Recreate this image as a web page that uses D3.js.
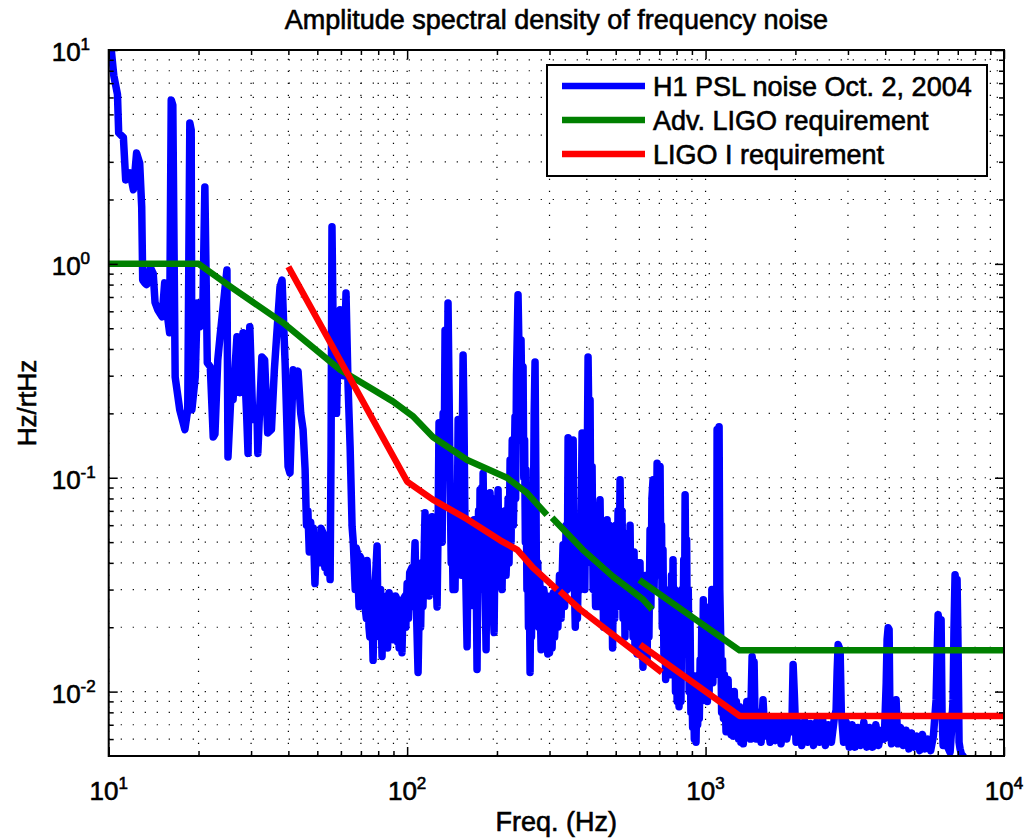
<!DOCTYPE html>
<html>
<head>
<meta charset="utf-8">
<script src="https://cdn.jsdelivr.net/npm/d3@7/dist/d3.min.js"></script>
<style>
  body { margin: 0; background: #fff; }
  svg text { font-family: "Liberation Sans", Arial, Helvetica, sans-serif; fill: #000; stroke: #000; stroke-width: 0.6px; }
</style>
</head>
<body>
<div id="chart"></div>
<script>
// measured H1 PSL frequency noise, [Hz, Hz/rtHz]
const pslNoise = [
  [10.1,12],[10.2,10],[10.4,7.6],[10.7,6.2],[10.8,4.1],[11.2,3.9],[11.4,2.47],[11.8,2.66],[12.1,2.22],[12.4,3.3],
  [12.7,2.96],[12.9,1.85],[13.0,0.84],[13.2,0.815],[13.4,0.8],[13.8,0.96],[14.1,0.9],[14.3,0.66],[14.6,0.61],[15.1,0.565],
  [15.4,0.815],[15.8,0.547],[16.0,0.476],[16.2,5.84],[16.4,5.53],[16.7,0.296],[17.3,0.208],[18.0,0.168],[18.4,0.208],[18.7,4.56],
  [18.9,4.23],[19.0,0.208],[19.5,0.296],[19.8,0.657],[20.2,0.508],[20.7,0.68],[21.0,2.29],[21.4,0.345],[21.9,0.33],[22.4,0.155],
  [22.7,0.16],[23.2,0.356],[23.6,0.456],[24.9,0.937],[25.1,0.125],[25.7,0.25],[26.1,0.231],[26.9,0.456],[27.5,0.25],[28.2,0.476],
  [29.0,0.193],[29.3,0.13],[29.7,0.508],[30.4,0.187],[31.4,0.2],[31.6,0.13],[32.6,0.367],[33.3,0.356],[34.1,0.162],[35.1,0.168],
  [35.9,0.32],[37.5,0.78],[38.1,0.84],[39.0,0.345],[39.9,0.113],[40.5,0.105],[41.5,0.32],[42.5,0.3],[43.1,0.315],[44,0.2],
  [44.8,0.168],[45.5,0.11],[46,0.06],[46.5,0.07],[47,0.045],[47.5,0.062],[48,0.05],[48.5,0.058],[49.1,0.032],[49.6,0.05],
  [50.3,0.053],[51,0.04],[51.5,0.058],[52.3,0.055],[53,0.038],[53.5,0.05],[54,0.036],[54.5,0.048],[55.2,0.0334],[55.6,0.135],
  [56.0,1.49],[56.5,0.5],[57.3,0.33],[58,0.2],[58.7,0.4],[59.6,0.61],[60.5,0.55],[61.2,0.3],[62,0.5],[62.4,0.73],
  [63.4,0.27],[64.4,0.14],[65.4,0.059],[66,0.05],[67,0.03],[67.5,0.047],[68,0.045],[69,0.025],[69.5,0.043],[70,0.042],
  [70.6,0.028],[71,0.04],[72,0.04],[72.5,0.024],[73,0.022],[73.4,0.041],[74,0.031],[74.5,0.02],[75,0.018],[75.5,0.03],
  [76,0.028],[76.9,0.014],[77.5,0.025],[78,0.03],[79.3,0.048],[79.9,0.02],[80.5,0.03],[81,0.018],[81.5,0.03],[82.4,0.0146],
  [83,0.027],[83.5,0.02],[84.3,0.027],[85,0.017],[85.5,0.028],[86,0.016],[87,0.029],[87.6,0.02],[88.5,0.028],[89,0.018],
  [89.7,0.0175],[90.5,0.027],[91,0.02],[91.5,0.028],[92.5,0.027],[93,0.017],[93.5,0.025],[94,0.016],[95,0.026],[96.1,0.0152],
  [97,0.027],[98.4,0.028],[99,0.02],[100,0.032],[101,0.022],[102,0.036],[103.8,0.038],[104.5,0.025],[106.3,0.0497],[107,0.03],
  [108.8,0.0123],[110,0.03],[111,0.02],[112,0.04],[113,0.025],[114.8,0.0686],[116,0.035],[117.5,0.0414],[118.5,0.028],[119.5,0.055],
  [121.2,0.0657],[122.5,0.03],[124,0.05],[126,0.0249],[127,0.06],[127.9,0.181],[129,0.06],[130,0.12],[131,0.05],[132,0.2],
  [133,0.1],[134,0.49],[135,0.3],[136,0.15],[137.1,0.657],[138,0.3],[139.3,0.0978],[140.5,0.04],[141.5,0.06],[142.5,0.03],
  [143.5,0.05],[144.7,0.03],[146,0.08],[147,0.04],[148.2,0.187],[149.5,0.05],[151,0.07],[152,0.035],[152.8,0.12],[154,0.375],
  [155,0.2],[156.3,0.0553],[157.5,0.03],[158.8,0.0162],[160,0.04],[161,0.025],[162.5,0.05],[164,0.03],[165,0.06],[166,0.028],
  [167.6,0.0636],[169,0.025],[170,0.05],[171.5,0.0127],[172.5,0.04],[173.5,0.07],[174.5,0.03],[175.5,0.0879],[177,0.04],[178,0.09],
  [179,0.035],[179.7,0.105],[181,0.05],[182.5,0.03],[183.9,0.0157],[185,0.05],[186.5,0.08],[187.5,0.03],[188.5,0.07],[189.6,0.0851],
  [191,0.03],[192.5,0.06],[194,0.025],[195.6,0.0189],[197,0.05],[198.5,0.08],[200,0.035],[201.7,0.0879],[203,0.04],[204.5,0.07],
  [206,0.035],[208,0.03],[209.5,0.06],[211,0.035],[213,0.07],[214.5,0.035],[216.2,0.0476],[218,0.08],[219.5,0.04],[221.3,0.121],
  [223,0.05],[225,0.15],[227,0.06],[229.9,0.193],[231,0.08],[232.5,0.3],[235.3,0.717],[237,0.4],[238.5,0.15],[240.8,0.441],
  [242.5,0.2],[244.6,0.33],[246,0.1],[247.5,0.15],[249,0.05],[250.3,0.109],[252,0.03],[253.5,0.05],[255,0.02],[256.5,0.035],
  [258.2,0.0123],[259.5,0.03],[261,0.018],[262.5,0.035],[264.2,0.0414],[265.5,0.1],[266.5,0.2],[268.3,0.348],[270,0.1],[271,0.04],
  [272.5,0.0269],[274,0.04],[276,0.02],[278,0.035],[281.1,0.0157],[283,0.03],[285,0.018],[287,0.03],[289.9,0.0269],[292,0.016],
  [294,0.028],[296,0.015],[298,0.025],[300,0.0152],[303,0.028],[306,0.016],[309,0.029],[312,0.018],[316,0.027],[320,0.02],
  [324,0.035],[328,0.022],[333,0.0486],[337,0.025],[341,0.06],[344,0.03],[346.2,0.154],[349,0.04],[351,0.12],[353,0.05],
  [356,0.135],[358,0.045],[360,0.15],[363,0.035],[366,0.02],[369,0.045],[372,0.022],[376,0.05],[380,0.03],[383,0.0636],
  [385.7,0.162],[388,0.035],[391,0.07],[394,0.03],[397.8,0.15],[400,0.06],[403.9,0.367],[406,0.2],[408,0.05],[410.2,0.231],
  [413,0.04],[416.6,0.113],[420,0.03],[424,0.06],[428,0.025],[433,0.055],[437,0.025],[440,0.065],[443,0.0789],[447,0.03],
  [451,0.06],[455,0.02],[459,0.055],[463,0.028],[467.8,0.0636],[472,0.025],[476,0.06],[480,0.02],[484,0.05],[488,0.016],
  [492,0.045],[496,0.022],[500,0.06],[505,0.025],[509,0.07],[513,0.03],[517,0.0978],[521,0.035],[525,0.07],[529,0.022],
  [533,0.055],[537,0.018],[541,0.05],[546,0.02],[550,0.055],[554,0.025],[558.5,0.06],[563,0.02],[567,0.045],[571.5,0.018],
  [576,0.045],[580,0.016],[585,0.035],[589.5,0.015],[594,0.04],[598,0.018],[603,0.04],[608,0.016],[612,0.035],[617,0.013],
  [622,0.03],[627,0.015],[632,0.035],[637,0.014],[641,0.035],[646,0.018],[651.6,0.0571],[656,0.025],[661,0.08],[666.8,0.0978],
  [672,0.03],[678,0.06],[683,0.035],[688,0.117],[693,0.05],[698,0.09],[703.9,0.113],[708,0.04],[712,0.06],[716,0.02],
  [720,0.046],[725,0.015],[730,0.03],[735,0.0114],[740,0.025],[745,0.012],[749,0.0269],[754,0.014],[759,0.03],[764,0.012],
  [769,0.035],[774,0.015],[778,0.0414],[783,0.013],[788,0.03],[793,0.01],[798,0.0175],[803,0.009],[809,0.02],[815,0.0085],
  [821,0.015],[827,0.009],[833,0.03],[839,0.015],[845,0.0414],[850,0.02],[854,0.0833],[859,0.03],[864,0.0513],[869,0.015],
  [875,0.03],[881,0.01],[887,0.0217],[893,0.008],[899,0.012],[905,0.0068],[911,0.01],[917,0.006],[923,0.009],[929,0.0058],
  [935,0.01],[941,0.007],[947,0.012],[953,0.0075],[959,0.0141],[965,0.009],[971,0.02],[977,0.011],[983,0.0269],[989,0.012],
  [995,0.02],[1001,0.01],[1007,0.018],[1014,0.009],[1021,0.0217],[1028,0.01],[1035,0.025],[1042,0.012],[1050,0.03],[1058,0.011],
  [1066,0.0269],[1074,0.012],[1082,0.025],[1090,0.02],[1093,0.168],[1100,0.08],[1110,0.173],[1116,0.03],[1124,0.0175],[1132,0.008],
  [1140,0.014],[1148,0.0075],[1156,0.012],[1163,0.00917],[1171,0.0065],[1180,0.011],[1190,0.0114],[1199,0.0065],[1208,0.01],[1218,0.0063],
  [1228,0.009],[1238,0.0062],[1248,0.01],[1258,0.0065],[1268,0.009],[1280,0.0072],[1290,0.006],[1300,0.0085],[1312,0.0058],[1325,0.008],
  [1338,0.0057],[1350,0.0078],[1363,0.0062],[1375,0.009],[1388,0.0063],[1400,0.0085],[1414,0.006],[1421,0.00917],[1432,0.0146],[1443,0.0135],
  [1454,0.0138],[1466,0.007],[1477,0.006],[1490,0.008],[1500,0.0072],[1535,0.0058],[1558,0.00917],[1580,0.0062],[1610,0.0075],[1645,0.0058],
  [1680,0.0074],[1715,0.0059],[1750,0.0072],[1790,0.0057],[1830,0.0074],[1870,0.006],[1910,0.0072],[1945,0.0065],[1965,0.0134],[1985,0.0095],
  [2010,0.0058],[2050,0.0072],[2100,0.0056],[2150,0.0073],[2200,0.0058],[2250,0.0071],[2300,0.0056],[2355,0.0072],[2410,0.0058],[2465,0.0075],
  [2520,0.0056],[2580,0.007],[2640,0.0058],[2700,0.0075],[2738,0.0082],[2760,0.0125],[2781,0.0166],[2824,0.0157],[2850,0.008],[2900,0.0058],
  [2960,0.0072],[3030,0.0055],[3100,0.007],[3170,0.0055],[3240,0.0068],[3310,0.0056],[3390,0.0072],[3470,0.0055],[3550,0.0068],[3630,0.0055],
  [3720,0.007],[3800,0.0056],[3890,0.0066],[3970,0.006],[4030,0.011],[4058,0.0175],[4090,0.0199],[4121,0.0195],[4150,0.007],[4200,0.0057],
  [4290,0.0072],[4349,0.00917],[4410,0.0057],[4500,0.0068],[4600,0.0056],[4700,0.0066],[4800,0.0054],[4900,0.0064],[5000,0.0055],[5110,0.0062],
  [5220,0.0053],[5330,0.0063],[5440,0.0054],[5560,0.006],[5680,0.0053],[5800,0.0062],[5923,0.00917],[5970,0.015],[6015,0.0229],[6100,0.02],
  [6155,0.0217],[6200,0.008],[6251,0.0056],[6320,0.0068],[6397,0.0074],[6480,0.0055],[6598,0.0052],[6680,0.0068],[6750,0.00917],[6800,0.02],
  [6855,0.0352],[6910,0.025],[6962,0.0334],[7020,0.015],[7070,0.0058],[7126,0.0054],[7200,0.0051],[7292,0.005]
];

// Advanced LIGO requirement (plotted in three pieces)
const advLigoA = [[10,1],[20,1],[26,0.77],[38.4,0.53],[59.6,0.32],[89.8,0.227],[105,0.193],[122,0.155],[159,0.121],[216,0.1],[252,0.085],[294,0.067]];
const advLigoB = [[306,0.065],[388,0.046],[490,0.0345],[617,0.027],[662,0.0242]];
const advLigoC = [[600,0.0333],[1300,0.0156],[10000,0.0156]];

// LIGO I requirement (three pieces)
const ligoOneA = [[40,0.97],[100,0.096],[122,0.079],[159,0.064],[205,0.051],[234,0.046],[264,0.038],[318,0.030]];
const ligoOneB = [[325,0.0295],[380,0.0242],[714,0.0123]];
const ligoOneC = [[604,0.0166],[1300,0.0077],[10000,0.0077]];

const xMajor = [10, 100, 1000, 10000];
const yMajor = [0.01, 0.1, 1, 10];
const xExp = ["1", "2", "3", "4"];
const yExp = ["-2", "-1", "0", "1"];

const legendItems = [
  { label: "H1 PSL noise Oct. 2, 2004", color: "#0000ff" },
  { label: "Adv. LIGO requirement", color: "#008000" },
  { label: "LIGO I requirement", color: "#ff0000" }
];

const W = 1026, H = 840;
const margin = { top: 50, right: 22, bottom: 84, left: 108.7 };
const width = W - margin.left - margin.right;
const height = H - margin.top - margin.bottom;

const x = d3.scaleLog().domain([10, 10000]).range([0, width]);
const y = d3.scaleLog().domain([0.005, 10]).range([height, 0]);

// minor positions 2..9 in each decade
const xMinor = [];
[10, 100, 1000].forEach(d => { for (let m = 2; m <= 9; m++) xMinor.push(d * m); });
const yMinor = [];
[0.001, 0.01, 0.1, 1].forEach(d => { for (let m = 2; m <= 9; m++) { const v = d * m; if (v > 0.005 && v < 10) yMinor.push(v); } });

const svg = d3.select("#chart").append("svg")
  .attr("width", W).attr("height", H);

svg.append("defs").append("clipPath").attr("id", "plotclip")
  .append("rect").attr("x", 0).attr("y", 0).attr("width", width).attr("height", height);

const g = svg.append("g").attr("transform", `translate(${margin.left},${margin.top})`);

// dotted grid
const grid = g.append("g").attr("stroke", "#000").attr("stroke-width", 1.2)
  .attr("stroke-dasharray", "1.2,10.8");
grid.selectAll(".gx").data(xMajor.concat(xMinor)).enter().append("line")
  .attr("x1", d => x(d)).attr("x2", d => x(d)).attr("y1", height).attr("y2", 0);
grid.selectAll(".gy").data(yMajor.concat(yMinor)).enter().append("line")
  .attr("y1", d => y(d)).attr("y2", d => y(d)).attr("x1", 0).attr("x2", width);

// curves
const line = d3.line().x(d => x(d[0])).y(d => y(d[1]));
const plot = g.append("g").attr("clip-path", "url(#plotclip)")
  .attr("fill", "none").attr("stroke-linejoin", "round").attr("stroke-linecap", "round");

plot.append("path").datum(pslNoise).attr("d", line)
  .attr("stroke", "#0000ff").attr("stroke-width", 7.5);

[advLigoA, advLigoB, advLigoC].forEach(seg => {
  plot.append("path").datum(seg).attr("d", line)
    .attr("stroke", "#008000").attr("stroke-width", 6.5).attr("stroke-linecap", "butt");
});
[ligoOneA, ligoOneB, ligoOneC].forEach(seg => {
  plot.append("path").datum(seg).attr("d", line)
    .attr("stroke", "#ff0000").attr("stroke-width", 6.5).attr("stroke-linecap", "butt");
});

// axes with inward ticks on all sides
function styleAxis(sel) {
  sel.select(".domain").remove();
  sel.selectAll("line").attr("stroke", "#000").attr("stroke-width", 1.5);
  sel.selectAll("text").remove();
}
g.append("g").attr("transform", `translate(0,${height})`)
  .call(d3.axisBottom(x).tickValues(xMajor).tickSize(-9)).call(styleAxis);
g.append("g").attr("transform", `translate(0,${height})`)
  .call(d3.axisBottom(x).tickValues(xMinor).tickSize(-5)).call(styleAxis);
g.append("g")
  .call(d3.axisTop(x).tickValues(xMajor).tickSize(-9)).call(styleAxis);
g.append("g")
  .call(d3.axisTop(x).tickValues(xMinor).tickSize(-5)).call(styleAxis);
g.append("g")
  .call(d3.axisLeft(y).tickValues(yMajor).tickSize(-9)).call(styleAxis);
g.append("g")
  .call(d3.axisLeft(y).tickValues(yMinor).tickSize(-5)).call(styleAxis);
g.append("g").attr("transform", `translate(${width},0)`)
  .call(d3.axisRight(y).tickValues(yMajor).tickSize(-9)).call(styleAxis);
g.append("g").attr("transform", `translate(${width},0)`)
  .call(d3.axisRight(y).tickValues(yMinor).tickSize(-5)).call(styleAxis);

g.append("rect").attr("width", width).attr("height", height)
  .attr("fill", "none").attr("stroke", "#000").attr("stroke-width", 2);

// tick labels 10^n
xMajor.forEach((v, i) => {
  const t = g.append("text").attr("x", x(v)).attr("y", height + 44)
    .attr("text-anchor", "middle").attr("font-size", 26);
  t.append("tspan").text("10");
  t.append("tspan").attr("dy", -11).attr("font-size", 17).text(xExp[i]);
});
yMajor.forEach((v, i) => {
  const t = g.append("text").attr("x", -57).attr("y", y(v) + 11)
    .attr("text-anchor", "start").attr("font-size", 26);
  t.append("tspan").text("10");
  t.append("tspan").attr("dy", -11).attr("font-size", 17).text(yExp[i]);
});

// titles
svg.append("text").attr("x", margin.left + width / 2).attr("y", 29)
  .attr("text-anchor", "middle").attr("font-size", 27)
  .text("Amplitude spectral density of frequency noise");
svg.append("text").attr("x", margin.left + width / 2).attr("y", 831)
  .attr("text-anchor", "middle").attr("font-size", 27).text("Freq. (Hz)");
svg.append("text")
  .attr("transform", `translate(36,${margin.top + height / 2}) rotate(-90)`)
  .attr("text-anchor", "middle").attr("font-size", 26).text("Hz/rtHz");

// legend
const lg = svg.append("g").attr("transform", "translate(547,65)");
lg.append("rect").attr("width", 440).attr("height", 111)
  .attr("fill", "#fff").attr("stroke", "#000").attr("stroke-width", 2);
legendItems.forEach((d, i) => {
  const cy = 21 + i * 34;
  lg.append("line").attr("x1", 15).attr("x2", 98).attr("y1", cy).attr("y2", cy)
    .attr("stroke", d.color).attr("stroke-width", 6.5);
  lg.append("text").attr("x", 106).attr("y", cy + 10).attr("font-size", 27).text(d.label);
});
</script>
</body>
</html>
